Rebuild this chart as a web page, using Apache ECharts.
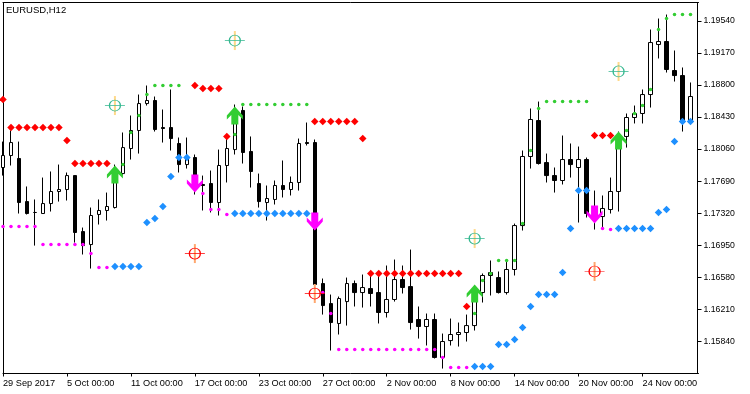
<!DOCTYPE html>
<html>
<head>
<meta charset="utf-8">
<style>html,body{margin:0;padding:0;background:#fff}#c{width:750px;height:394px}</style>
<script src="https://cdn.jsdelivr.net/npm/echarts@6/dist/echarts.min.js"></script>
</head>
<body>
<div id="c"></div>
<script>
const chartTitle = 'EURUSD,H12';
const xTickLabels = ['29 Sep 2017','5 Oct 00:00','11 Oct 00:00','17 Oct 00:00','23 Oct 00:00','27 Oct 00:00','2 Nov 00:00','8 Nov 00:00','14 Nov 00:00','20 Nov 00:00','24 Nov 00:00'];
const yTicks = [1.1584,1.1621,1.1658,1.1695,1.1732,1.1769,1.1806,1.1843,1.188,1.1917,1.1954];
const opens = [1.17847,1.17985,1.17951,1.17454,1.17328,1.17316,1.17431,1.17570,1.17593,1.17754,1.17108,1.16958,1.17305,1.17351,1.17385,1.17777,1.18066,1.18274,1.18585,1.18620,1.18308,1.18308,1.18124,1.17881,1.17962,1.17651,1.17662,1.17443,1.17870,1.18054,1.18505,1.18032,1.17662,1.17443,1.17478,1.17639,1.17593,1.17674,1.18135,1.18135,1.16508,1.16277,1.16047,1.16300,1.16508,1.16404,1.16450,1.16404,1.16174,1.16324,1.16554,1.16473,1.16093,1.16012,1.16093,1.15655,1.15850,1.15920,1.15943,1.16023,1.16404,1.16601,1.16577,1.16404,1.16670,1.17177,1.17974,1.18389,1.17904,1.17754,1.17697,1.17939,1.17847,1.17939,1.17316,1.17281,1.17362,1.17570,1.18205,1.18424,1.18470,1.18689,1.19266,1.19301,1.18966,1.18908,1.18366];
const closes = [1.17985,1.18135,1.17443,1.17316,1.17328,1.17431,1.17570,1.17593,1.17754,1.17097,1.16946,1.17293,1.17351,1.17397,1.17777,1.18077,1.18274,1.18585,1.18620,1.18285,1.18297,1.18181,1.17881,1.17951,1.17639,1.17639,1.17443,1.17870,1.18066,1.18505,1.18020,1.17801,1.17454,1.17489,1.17639,1.17593,1.17674,1.18124,1.18124,1.16497,1.16254,1.16058,1.16335,1.16508,1.16404,1.16462,1.16393,1.16174,1.16324,1.16554,1.16462,1.16058,1.16012,1.16093,1.15655,1.15839,1.15920,1.15943,1.16023,1.16404,1.16601,1.16635,1.16404,1.16670,1.17177,1.17974,1.18401,1.17893,1.17754,1.17697,1.17939,1.17881,1.17939,1.17316,1.17281,1.17374,1.17570,1.18205,1.18424,1.18470,1.18689,1.19289,1.19301,1.18978,1.18908,1.18366,1.18666];
const highs = [1.18146,1.18274,1.18146,1.17628,1.17478,1.17731,1.17801,1.17881,1.17789,1.17754,1.17154,1.17385,1.17478,1.17558,1.17881,1.18251,1.18447,1.18689,1.18793,1.18666,1.18516,1.18747,1.18193,1.18193,1.17997,1.17754,1.17812,1.18054,1.18193,1.18574,1.18551,1.18205,1.17777,1.17639,1.17697,1.17928,1.17743,1.18181,1.18366,1.18170,1.16566,1.16381,1.16358,1.16577,1.16543,1.16612,1.16624,1.16624,1.16716,1.16785,1.16716,1.16900,1.16243,1.16162,1.16162,1.15931,1.16104,1.16058,1.16150,1.16485,1.16624,1.16774,1.16647,1.16774,1.17200,1.18043,1.18528,1.18608,1.18008,1.17847,1.18216,1.18124,1.18089,1.17962,1.17581,1.17524,1.17731,1.18262,1.18470,1.18562,1.18747,1.19439,1.19566,1.19612,1.19197,1.19001,1.18828];
const lows = [1.17754,1.17870,1.17316,1.17305,1.16946,1.17316,1.17339,1.17454,1.17466,1.16981,1.16843,1.16681,1.17189,1.17235,1.17374,1.17754,1.17939,1.18008,1.18562,1.18262,1.18135,1.18043,1.17789,1.17835,1.17535,1.17351,1.17328,1.17293,1.17674,1.17997,1.17893,1.17616,1.17385,1.17235,1.17420,1.17501,1.17524,1.17581,1.18101,1.16450,1.16150,1.15735,1.15920,1.16023,1.16243,1.16231,1.16243,1.16047,1.16116,1.16300,1.16393,1.15977,1.15873,1.15793,1.15643,1.15527,1.15793,1.15781,1.15839,1.15966,1.16289,1.16370,1.16393,1.16381,1.16601,1.17120,1.17835,1.17881,1.17674,1.17558,1.17651,1.17731,1.17212,1.17270,1.17131,1.17154,1.17316,1.17339,1.18077,1.18355,1.18355,1.18539,1.19105,1.18943,1.18839,1.18262,1.18355];
const greenDots = [[15,1.17881],[16,1.18251],[17,1.18447],[18,1.18689],[19,1.18793],[20,1.18793],[21,1.18793],[22,1.18793],[29,1.18228],[30,1.18574],[31,1.18574],[32,1.18574],[33,1.18574],[34,1.18574],[35,1.18574],[36,1.18574],[37,1.18574],[38,1.18574],[59,1.16162],[60,1.16543],[61,1.16624],[62,1.16774],[63,1.16774],[64,1.16774],[65,1.172],[66,1.18043],[67,1.18528],[68,1.18608],[69,1.18608],[70,1.18608],[71,1.18608],[72,1.18608],[73,1.18608],[78,1.18274],[79,1.1847],[80,1.18562],[81,1.18747],[82,1.19439],[83,1.19566],[84,1.19612],[85,1.19612],[86,1.19612]];
const magentaDots = [[0,1.17166],[1,1.17166],[2,1.17166],[3,1.17166],[4,1.17166],[5,1.16958],[6,1.16958],[7,1.16958],[8,1.16958],[9,1.16958],[10,1.16958],[11,1.16854],[12,1.16693],[13,1.16693],[25,1.17547],[26,1.17362],[27,1.17362],[28,1.17305],[40,1.16404],[41,1.16162],[42,1.15747],[43,1.15747],[44,1.15747],[45,1.15747],[46,1.15747],[47,1.15747],[48,1.15747],[49,1.15747],[50,1.15747],[51,1.15747],[52,1.15747],[53,1.15747],[54,1.15747],[55,1.15655],[56,1.15539],[57,1.15539],[58,1.15539],[75,1.17143],[76,1.17131]];
const redDiamonds = [[0,1.18632],[1,1.18308],[2,1.18308],[3,1.18308],[4,1.18308],[5,1.18308],[6,1.18308],[7,1.18308],[8,1.18158],[9,1.17893],[10,1.17893],[11,1.17893],[12,1.17893],[13,1.17893],[24,1.18793],[25,1.18758],[26,1.18758],[27,1.18758],[28,1.18205],[39,1.18378],[40,1.18378],[41,1.18378],[42,1.18378],[43,1.18378],[44,1.18378],[45,1.18181],[46,1.16624],[47,1.16624],[48,1.16624],[49,1.16624],[50,1.16624],[51,1.16624],[52,1.16624],[53,1.16624],[54,1.16624],[55,1.16624],[56,1.16624],[57,1.16624],[58,1.16243],[74,1.18216],[75,1.18216],[76,1.18216]];
const blueDiamonds = [[14,1.16704],[15,1.16704],[16,1.16704],[17,1.16704],[18,1.17212],[19,1.17258],[20,1.17397],[21,1.17743],[22,1.17962],[23,1.17962],[29,1.17316],[30,1.17316],[31,1.17316],[32,1.17316],[33,1.17316],[34,1.17316],[35,1.17316],[36,1.17316],[37,1.17316],[38,1.17316],[59,1.1555],[60,1.1555],[61,1.1555],[62,1.15804],[63,1.15804],[64,1.15862],[65,1.16],[66,1.16243],[67,1.16381],[68,1.16381],[69,1.16381],[70,1.16635],[71,1.17143],[72,1.17581],[73,1.17581],[77,1.17143],[78,1.17143],[79,1.17143],[80,1.17143],[81,1.17143],[82,1.17328],[83,1.17362],[84,1.18147],[85,1.18378],[86,1.18378]];
const upArrows = [[14,1.17766],[29,1.18447],[59,1.16393],[77,1.18158]];
const downArrows = [[24,1.17662],[39,1.17224],[74,1.17305]];
const tealTargets = [[14,1.18562],[29,1.19312],[59,1.17027],[77,1.18955]];
const redTargets = [[24,1.16854],[39,1.16393],[74,1.16647]];

const BAR_SLOTS = 88;
const Y_MIN = 1.1547, Y_MAX = 1.19751;
const categories = Array.from({length: BAR_SLOTS}, (_, i) => i % 8 === 0 ? xTickLabels[i / 8] : '');
const candles = opens.map((o, i) => [o, closes[i], lows[i], highs[i]]);

const FONT = 'Liberation Sans';
const UP = 'path://M8 0L16 9L16 13L11.5 8.5L11.5 18L4.5 18L4.5 8.5L0 13L0 9Z';
const DOWN = 'path://M8 18L16 9L16 5L11.5 9.5L11.5 0L4.5 0L4.5 9.5L0 5L0 9Z';
const RING = 'path://M0 5.5H20M15.5 5.5A5.5 5.5 0 1 1 4.5 5.5A5.5 5.5 0 1 1 15.5 5.5Z';
const blackLine = {show:true, lineStyle:{color:'#000', width:1}};

function scatter(data, symbol, size, color, z) {
  return {type:'scatter', data, symbol, symbolSize:size, z, silent:true, animation:false,
    itemStyle:{color, opacity:1}};
}
function ring(data, color, z) {
  return {type:'scatter', data, symbol:RING, symbolSize:[20,11], z, silent:true, animation:false,
    itemStyle:{color:'rgba(0,0,0,0)', borderColor:color, borderWidth:1, opacity:1}};
}

const chart = echarts.init(document.getElementById('c'), null, {renderer:'canvas'});
chart.setOption({
  animation:false,
  backgroundColor:'#ffffff',
  title:{text:chartTitle, left:1, top:0, textStyle:{fontFamily:FONT, fontSize:9.5, fontWeight:'normal', color:'#000'}},
  grid:{left:2.5, right:51.5, top:2.5, bottom:20.5, show:false},
  xAxis:[
    {type:'category', data:categories, boundaryGap:false, axisLine:blackLine,
     axisTick:{show:true, interval:7, length:3, lineStyle:{color:'#000'}},
     axisLabel:{interval:7, align:'left', margin:5, color:'#000', fontFamily:FONT, fontSize:9.2, showMinLabel:true, hideOverlap:false},
     splitLine:{show:false}},
    {type:'category', data:categories, boundaryGap:false, position:'top', axisLine:blackLine,
     axisTick:{show:false}, axisLabel:{show:false}, splitLine:{show:false}}
  ],
  yAxis:[
    {type:'value', position:'right', offset:-1, min:Y_MIN, max:Y_MAX, axisLine:blackLine,
     axisTick:{show:true, length:4, customValues:yTicks, lineStyle:{color:'#000'}},
     axisLabel:{customValues:yTicks, margin:6, color:'#000', fontFamily:FONT, fontSize:8.7, formatter:v => v.toFixed(5), showMinLabel:true, showMaxLabel:true},
     splitLine:{show:false}},
    {type:'value', position:'left', min:Y_MIN, max:Y_MAX, axisLine:blackLine,
     axisTick:{show:false}, axisLabel:{show:false}, splitLine:{show:false}}
  ],
  series:[
    {type:'candlestick', data:candles, barWidth:4, z:2, silent:true, animation:false,
     itemStyle:{color:'#ffffff', color0:'#000000', borderColor:'#000000', borderColor0:'#000000', borderColorDoji:'#000000', borderWidth:1}},
    scatter(greenDots,'circle',3.5,'#32CD32',3),
    scatter(magentaDots,'circle',3.5,'#FF00FF',3),
    scatter(redDiamonds,'diamond',7.5,'#FF0000',3),
    scatter(blueDiamonds,'diamond',7.5,'#1E90FF',3),
    scatter(upArrows,UP,[16,18],'#32CD32',4),
    scatter(downArrows,DOWN,[16,18],'#FF00FF',4),
    scatter(tealTargets,'rect',[2,19],'#FFD98A',5),
    scatter(redTargets,'rect',[2,19],'#FFA870',5),
    ring(tealTargets,'#35B890',6),
    ring(redTargets,'#FF0000',6)
  ]
});
</script>
</body>
</html>
